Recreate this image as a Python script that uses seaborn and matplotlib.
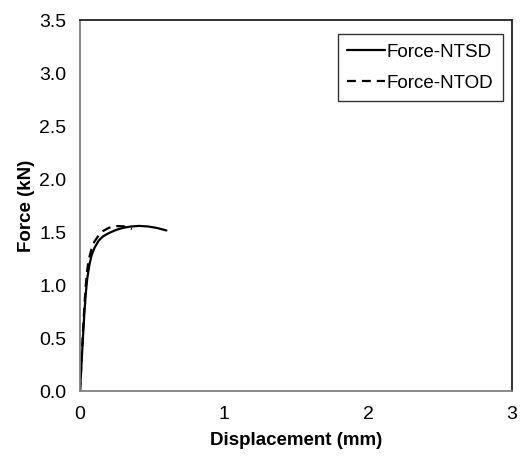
import matplotlib
matplotlib.use("Agg")
import matplotlib.pyplot as plt
import seaborn as sns
import pandas as pd

ntsd_x = [0, 0.01, 0.02, 0.03, 0.04, 0.05, 0.065, 0.08, 0.1, 0.13, 0.16, 0.2, 0.25, 0.3, 0.35, 0.41, 0.47, 0.53, 0.6]
ntsd_y = [0, 0.25, 0.5, 0.73, 0.92, 1.06, 1.19, 1.28, 1.35, 1.42, 1.46, 1.49, 1.52, 1.54, 1.552, 1.558, 1.553, 1.54, 1.515]
ntod_x = [0, 0.01, 0.02, 0.03, 0.04, 0.05, 0.06, 0.08, 0.1, 0.13, 0.16, 0.2, 0.25, 0.3, 0.36]
ntod_y = [0, 0.27, 0.55, 0.8, 1.0, 1.14, 1.24, 1.34, 1.41, 1.47, 1.51, 1.54, 1.556, 1.555, 1.53]
x_ticks = [0, 1, 2, 3]
y_ticks = [0.0, 0.5, 1.0, 1.5, 2.0, 2.5, 3.0, 3.5]

sns.set_style("white")
plt.rcParams['font.family'] = ['Liberation Sans', 'DejaVu Sans']
plt.rcParams['text.color'] = 'black'
plt.rcParams['axes.labelcolor'] = 'black'

df1 = pd.DataFrame({"x": ntsd_x, "y": ntsd_y})
df2 = pd.DataFrame({"x": ntod_x, "y": ntod_y})

fig = plt.figure(figsize=(5.21, 4.68), dpi=100)
ax = fig.add_axes([0.1536, 0.1645, 0.8291, 0.7925])

sns.lineplot(data=df1, x="x", y="y", ax=ax, color="black", linewidth=1.6,
             estimator=None, sort=False, label="Force-NTSD")
sns.lineplot(data=df2, x="x", y="y", ax=ax, color="black", linewidth=1.6,
             estimator=None, sort=False, label="Force-NTOD", dashes=False)
ax.lines[1].set_dashes([4, 2.7])

ax.set_xlim(0, 3)
ax.set_ylim(0, 3.5)
ax.set_xticks(x_ticks)
ax.set_xticklabels([str(t) for t in x_ticks])
ax.set_yticks(y_ticks)
ax.set_yticklabels([f"{t:.1f}" for t in y_ticks])
ax.tick_params(axis='both', direction='in', length=5, width=1, colors='#808080',
               labelcolor='black', labelsize=14)
ax.tick_params(axis='x', pad=11)
ax.tick_params(axis='y', pad=10)

for s in ['left', 'bottom']:
    ax.spines[s].set_color('#808080')
    ax.spines[s].set_linewidth(1.3)
for s in ['top', 'right']:
    ax.spines[s].set_color('#222222')
    ax.spines[s].set_linewidth(1.3)

ax.set_xlabel("Displacement (mm)", fontsize=13.5, fontweight='bold', labelpad=6, color='black')
ax.set_ylabel("Force (kN)", fontsize=13.5, fontweight='bold', labelpad=3, color='black')

leg = ax.legend(loc='upper right', bbox_to_anchor=(0.965, 0.927),
                bbox_transform=fig.transFigure, borderaxespad=0,
                fontsize=13.5, frameon=True, fancybox=False, handlelength=2.0,
                handletextpad=0.1, labelspacing=0.75, borderpad=0.5)
leg.get_frame().set_edgecolor('black')
leg.get_frame().set_linewidth(1.0)
for t in leg.get_texts():
    t.set_color('black')

fig.savefig("out.png", dpi=100)
